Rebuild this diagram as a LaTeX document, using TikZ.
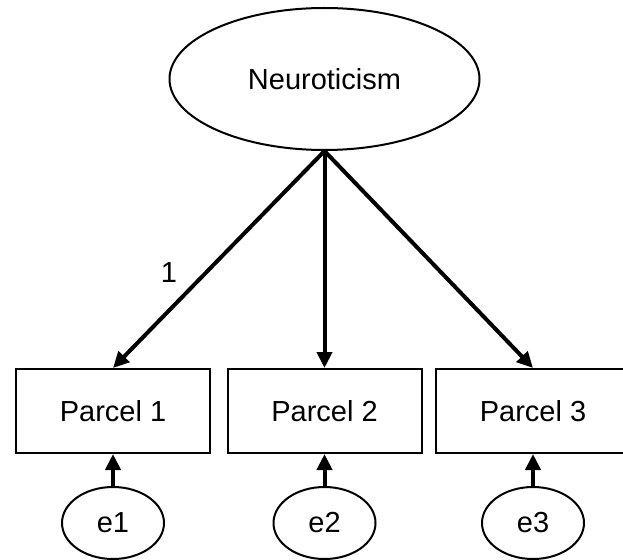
\documentclass[tikz,border=0pt]{standalone}
\usepackage{fontspec}
\setmainfont{Liberation Sans}
\usetikzlibrary{shapes.geometric,arrows.meta}
\begin{document}
\begin{tikzpicture}[x=1pt,y=-1pt,
  txt/.style={font=\fontsize{29}{33}\selectfont},
  latent/.style={draw,line width=2pt,ellipse,inner sep=0pt,txt},
  obs/.style={draw,line width=2pt,rectangle,minimum width=194pt,minimum height=84pt,inner sep=0pt,txt},
  path/.style={line width=4pt,-{Triangle[length=16pt,width=15pt]}}]
\clip (0,0) rectangle (623,559);
\fill[white] (0,0) rectangle (623,559);
\node[latent,minimum width=310pt,minimum height=142pt] (N) at (324.5,79) {Neuroticism};
\node[obs] (p1) at (113,411) {Parcel 1};
\node[obs] (p2) at (324.5,411) {Parcel 2};
\node[obs] (p3) at (533,411) {Parcel 3};
\node[latent,minimum width=102pt,minimum height=72pt] (e1) at (113,523) {e1};
\node[latent,minimum width=102pt,minimum height=72pt] (e2) at (324.5,523) {e2};
\node[latent,minimum width=102pt,minimum height=72pt] (e3) at (533,523) {e3};
\draw[path] (N.south) -- (p1.north);
\draw[path] (N.south) -- (p2.north);
\draw[path] (N.south) -- (p3.north);
\draw[path] (e1.north) -- (p1.south);
\draw[path] (e2.north) -- (p2.south);
\draw[path] (e3.north) -- (p3.south);
\node[txt,inner sep=0pt] (l1) at (169,273) {1};
\end{tikzpicture}
\end{document}
